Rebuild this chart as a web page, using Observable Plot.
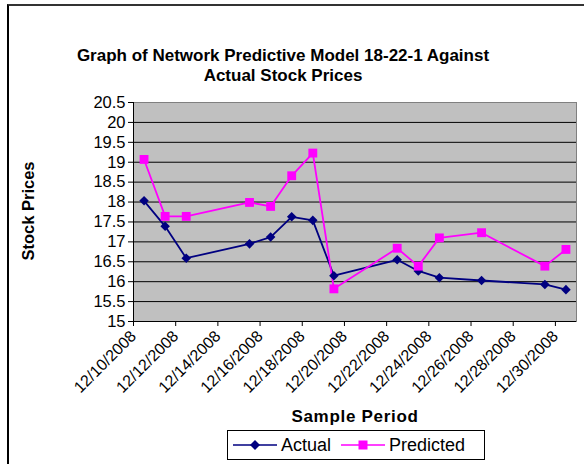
<!DOCTYPE html>
<html>
<head>
<meta charset="utf-8">
<script src="https://cdn.jsdelivr.net/npm/d3@7"></script>
<script src="https://cdn.jsdelivr.net/npm/@observablehq/plot@0.6"></script>
<style>
  html, body { margin: 0; padding: 0; background: #fff; }
  #chart { position: relative; width: 584px; height: 464px; overflow: hidden; background: #fff;
           font-family: "Liberation Sans", Arial, sans-serif; color: #000; }
  #outer { position: absolute; left: 7px; top: 4px; width: 620px; height: 520px;
           border-left: 2px solid #000; border-top: 2px solid #333; }
  #title { position: absolute; left: 0; top: 46px; width: 566px; text-align: center;
           font-weight: bold; font-size: 17px; line-height: 20px; }
  #ylabel { position: absolute; left: 28px; top: 211px; transform: translate(-50%, -50%) rotate(-90deg);
            font-weight: bold; font-size: 16.5px; white-space: nowrap; }
  #xlabel { position: absolute; left: 0; width: 710px; top: 407px; text-align: center;
            font-weight: bold; font-size: 17px; letter-spacing: 0.7px; }
  #legend { position: absolute; left: 227px; top: 430px; width: 256px; height: 28px;
            border: 1px solid #000; background: #fff; display: flex; align-items: center;
            font-size: 18px; }
  .item { display: flex; align-items: center; margin-left: 5px; }
  .item + .item { margin-left: 10px; }
  .item svg { margin-right: 4px; }
  #plot { position: absolute; left: 0; top: 0; }
</style>
</head>
<body>
<div id="chart">
  <div id="outer"></div>
  <div id="title">Graph of Network Predictive Model 18-22-1 Against<br>Actual Stock Prices</div>
  <div id="ylabel">Stock Prices</div>
  <div id="plot"></div>
  <div id="xlabel">Sample Period</div>
  <div id="legend"></div>
</div>
<script>
// ---- data ----
const dates = ["2008-12-10","2008-12-11","2008-12-12","2008-12-15","2008-12-16","2008-12-17","2008-12-18",
               "2008-12-19","2008-12-22","2008-12-23","2008-12-24","2008-12-26","2008-12-29","2008-12-30"];
const actual    = [18.03,17.39,16.59,16.95,17.12,17.63,17.54,16.15,16.55,16.27,16.10,16.03,15.93,15.80];
const predicted = [19.07,17.64,17.64,17.99,17.89,18.66,19.23,15.82,16.84,16.39,17.10,17.23,16.39,16.81];
const seriesNames = ["Actual", "Predicted"];
const seriesColors = ["#000080", "#FF00FF"];
const yTicks = [15,15.5,16,16.5,17,17.5,18,18.5,19,19.5,20,20.5];
const xTickDates = ["2008-12-10","2008-12-12","2008-12-14","2008-12-16","2008-12-18","2008-12-20",
                    "2008-12-22","2008-12-24","2008-12-26","2008-12-28","2008-12-30"];
const xDomain = ["2008-12-10","2008-12-31"];

// ---- build table ----
const parse = d3.utcParse("%Y-%m-%d");
// Excel date axis centres each point within its day
const rows = [];
dates.forEach((d, i) => {
  const x = d3.utcHour.offset(parse(d), 12);
  rows.push({x, y: actual[i], s: seriesNames[0]});
  rows.push({x, y: predicted[i], s: seriesNames[1]});
});
const fmt = d3.utcFormat("%m/%d/%Y");

const chart = Plot.plot({
  width: 584,
  height: 464,
  marginLeft: 133,
  marginRight: 8,
  marginTop: 102,
  marginBottom: 143,
  style: {fontFamily: '"Liberation Sans", Arial, sans-serif', fontSize: "16px", background: "transparent", color: "#000"},
  x: {type: "utc", domain: xDomain.map(parse), label: null},
  y: {domain: [15, 20.5], label: null},
  color: {domain: seriesNames, range: seriesColors},
  marks: [
    Plot.frame({fill: "#C0C0C0"}),
    Plot.gridY(yTicks, {stroke: "#000", strokeOpacity: 1, strokeWidth: 1}),
    Plot.frame({stroke: "#808080"}),
    Plot.ruleY([15], {stroke: "#000"}),
    Plot.ruleX([parse(xDomain[0])], {stroke: "#000"}),
    Plot.axisY(yTicks, {tickSize: 5, tickPadding: 3, tickFormat: d => String(d), fontSize: 16.5, label: null}),
    Plot.axisX(xTickDates.map(parse), {tickSize: 5, tickPadding: 7, tickRotate: -45, tickFormat: fmt, fontSize: 16, label: null}),
    Plot.line(rows, {x: "x", y: "y", z: "s", stroke: "s", strokeWidth: 1.8}),
    Plot.dot(rows.filter(r => r.s === seriesNames[0]), {x: "x", y: "y", symbol: "diamond2", r: 4.3, fill: seriesColors[0], stroke: "none"}),
    Plot.dot(rows.filter(r => r.s === seriesNames[1]), {x: "x", y: "y", symbol: "square", r: 5, fill: seriesColors[1], stroke: "none"})
  ]
});
document.getElementById("plot").appendChild(chart);

// ---- legend ----
const legend = document.getElementById("legend");
seriesNames.forEach((name, i) => {
  const item = document.createElement("div");
  item.className = "item";
  const marker = i === 0
    ? `<path d="M22,-5L27,0L22,5L17,0Z" fill="${seriesColors[i]}"/>`
    : `<rect x="17.5" y="-4.5" width="9" height="9" fill="${seriesColors[i]}"/>`;
  item.innerHTML = `<svg width="44" height="12" viewBox="0 -6 44 12"><line x1="0" x2="44" y1="0" y2="0" stroke="${seriesColors[i]}" stroke-width="1.5"/>${marker}</svg><span>${name}</span>`;
  legend.appendChild(item);
});
</script>
</body>
</html>
